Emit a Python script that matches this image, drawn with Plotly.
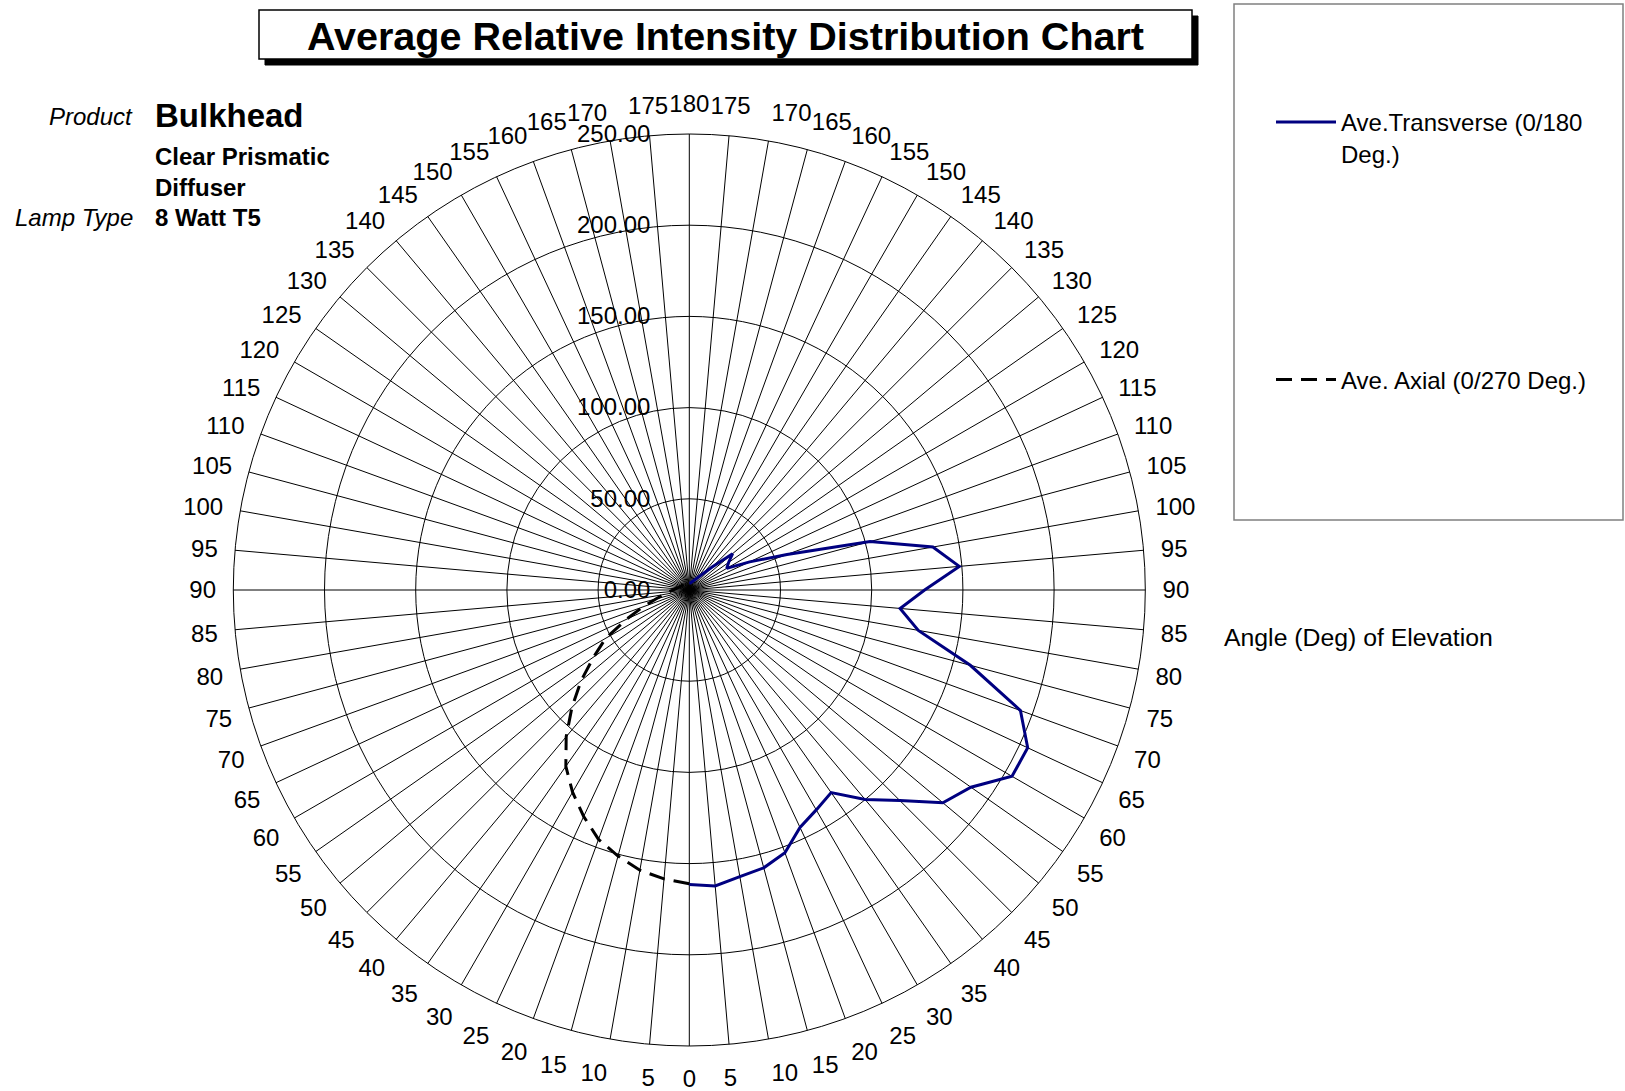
import plotly.graph_objects as go

# ---- data ----
angles = list(range(0, 181, 5))
transverse = [161.4, 162.9, 159.6, 157.7, 153.3, 143.6, 139.2, 135.6, 150.0, 163.2,
              181.5, 188.5, 204.3, 204.7, 193.2, 159.5, 127.5, 116.0, 129.0, 148.6,
              135.6, 102.6, 57.0, 36.5, 23.7, 26.3, 31.0, 18.0, 11.6, 8.5,
              6.8, 5.8, 4.9, 4.4, 4.0, 3.8, 3.7]
axial = [161.0, 159.0, 156.0, 151.0, 145.5, 137.0, 128.0, 118.0, 105.0, 91.0,
         77.5, 64.0, 53.0, 38.0, 27.0, 19.0, 14.0, 11.0, 9.0, 7.5,
         6.5, 6.0, 5.5, 5.0, 4.8, 4.6, 4.4, 4.2, 4.1, 4.0,
         3.9, 3.9, 3.8, 3.8, 3.7, 3.7, 3.7]
tick_vals = list(range(0, 360, 5))
tick_text = [str(v if v <= 180 else 360 - v) for v in tick_vals]
radial_ticks = [0, 50, 100, 150, 200, 250]
radial_text = ["%.2f" % v for v in radial_ticks]

FONT = "Liberation Sans, Arial, sans-serif"
W, H = 1625, 1091

fig = go.Figure()
fig.add_trace(go.Scatterpolar(
    r=transverse, theta=angles, mode="lines",
    name="Ave.Transverse (0/180<br>Deg.)", legendgroup="t",
    line=dict(color="#000080", width=3)))
fig.add_trace(go.Scatterpolar(
    r=axial, theta=[360 - a for a in angles], mode="lines",
    name="Ave. Axial (0/270 Deg.)", legendgroup="a",
    line=dict(color="black", width=3, dash="16px,9px")))

# polar placement
cx, cy, R = 689.3, 590.0, 456.0
dom_x = [(cx - R) / W, (cx + R) / W]
dom_y = [1 - (cy + R) / H, 1 - (cy - R) / H]

fig.update_layout(
    width=W, height=H,
    margin=dict(l=0, r=0, t=0, b=0),
    paper_bgcolor="white",
    font=dict(family=FONT, size=24, color="black"),
    polar=dict(
        domain=dict(x=dom_x, y=dom_y),
        bgcolor="white",
        angularaxis=dict(
            rotation=270, direction="counterclockwise",
            tickmode="array", tickvals=tick_vals, ticktext=tick_text,
            showgrid=True, gridcolor="black", gridwidth=1,
            showline=True, linecolor="black", linewidth=1,
            ticks="outside", ticklen=12, tickcolor="rgba(0,0,0,0)",
            tickfont=dict(size=24, family=FONT, color="black")),
        radialaxis=dict(
            range=[0, 250], angle=90, tickangle=90, side="counterclockwise",
            tickmode="array", tickvals=radial_ticks, ticktext=radial_text,
            showgrid=True, gridcolor="black", gridwidth=1,
            showline=False, ticks="outside", ticklen=30,
            tickcolor="rgba(0,0,0,0)",
            tickfont=dict(size=24, family=FONT, color="black")),
    ),
    legend=dict(
        x=1271 / W, y=1 - 100 / H, xanchor="left", yanchor="top",
        bgcolor="rgba(0,0,0,0)", borderwidth=0,
        font=dict(size=24, family=FONT, color="black"),
        tracegroupgap=192, valign="top", itemwidth=60),
    showlegend=True,
)

shapes = []
# title box shadow and box
shapes.append(dict(type="rect", xref="paper", yref="paper",
                   x0=265 / W, x1=1198 / W, y0=1 - 65 / H, y1=1 - 16 / H,
                   fillcolor="black", line=dict(color="black", width=1), layer="below"))
shapes.append(dict(type="rect", xref="paper", yref="paper",
                   x0=259 / W, x1=1192 / W, y0=1 - 59 / H, y1=1 - 10 / H,
                   fillcolor="white", line=dict(color="black", width=1.5), layer="below"))
# legend box
shapes.append(dict(type="rect", xref="paper", yref="paper",
                   x0=1234 / W, x1=1623 / W, y0=1 - 520 / H, y1=1 - 4 / H,
                   fillcolor="rgba(0,0,0,0)", line=dict(color="#808080", width=1.5)))
fig.update_layout(shapes=shapes)

ann = []
def add(text, x, y, size=24, xanchor="left", bold=False, italic=False):
    t = text
    if bold:
        t = "<b>" + t + "</b>"
    if italic:
        t = "<i>" + t + "</i>"
    ann.append(dict(text=t, x=x / W, y=1 - y / H, xref="paper", yref="paper",
                    xanchor=xanchor, yanchor="middle", showarrow=False,
                    font=dict(size=size, family=FONT, color="black")))

add("Average Relative Intensity Distribution Chart", 725.5, 36, size=39.5, xanchor="center", bold=True)
add("Product", 135, 117, italic=True, xanchor="right")
add("Bulkhead", 153, 115, size=33, bold=True)
add("Clear Prismatic", 153, 156, bold=True)
add("Diffuser", 153, 188, bold=True)
add("Lamp Type", 135, 218, italic=True, xanchor="right")
add("8 Watt T5", 153, 218, bold=True)
add("Angle (Deg) of Elevation", 1222, 637, size=24.8)
fig.update_layout(annotations=ann)

fig.write_html("out.html", config={"displayModeBar": False},
               post_script="document.body.style.margin='0px';document.body.style.overflow='hidden';")
